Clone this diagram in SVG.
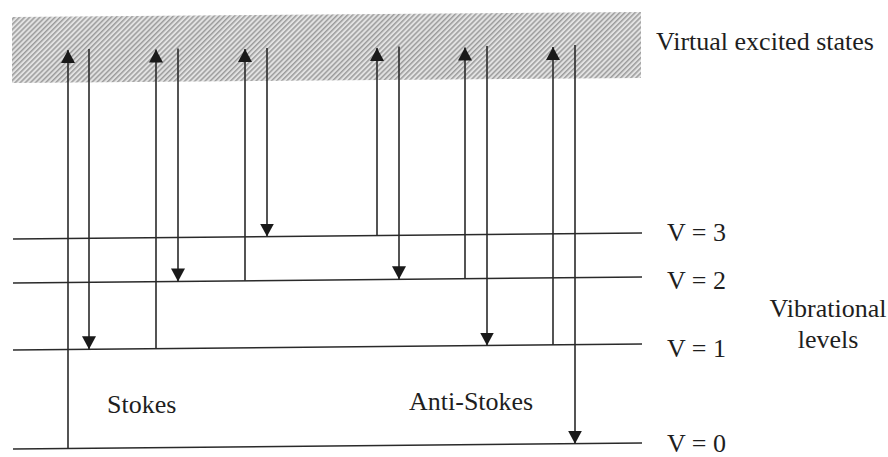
<svg xmlns="http://www.w3.org/2000/svg" width="888" height="457" viewBox="0 0 888 457">
<defs>
<pattern id="hatch" patternUnits="userSpaceOnUse" width="3.6" height="10" patternTransform="rotate(45)">
<rect width="3.6" height="10" fill="#e2e2e2"/>
<rect width="1.5" height="10" fill="#9c9c9c"/>
</pattern>
<marker id="ah" markerUnits="userSpaceOnUse" markerWidth="14" markerHeight="14" viewBox="0 0 14 14" refX="13" refY="7" orient="auto">
<path d="M0,0 L13,7 L0,14 Z" fill="#1a1a1a"/>
</marker>
</defs>
<style>
.lvl{stroke:#2a2a2a;stroke-width:1.6;fill:none}
.ar{stroke:#2a2a2a;stroke-width:1.6;fill:none;marker-end:url(#ah)}
text{font-family:"Liberation Serif","Times New Roman",serif;font-size:26px;fill:#1e1e1e}
</style>
<rect width="888" height="457" fill="#ffffff"/>
<g id="virtual-states">
<polygon points="12,17 641,12 641,78 12,83" fill="url(#hatch)"/>
</g>
<g id="level-v3"><line class="lvl" x1="13" y1="239" x2="642" y2="233"/></g>
<g id="level-v2"><line class="lvl" x1="13" y1="283" x2="642" y2="277"/></g>
<g id="level-v1"><line class="lvl" x1="13" y1="350" x2="642" y2="344"/></g>
<g id="level-v0"><line class="lvl" x1="13" y1="449" x2="642" y2="443"/></g>
<g id="connectors">
<line class="ar" x1="68" y1="448.5" x2="68" y2="50"/>
<line class="ar" x1="89" y1="49" x2="89" y2="349.3"/>
<line class="ar" x1="156" y1="348.6" x2="156" y2="49.5"/>
<line class="ar" x1="178" y1="48.5" x2="178" y2="281.4"/>
<line class="ar" x1="245" y1="280.8" x2="245" y2="49"/>
<line class="ar" x1="267" y1="48" x2="267" y2="236.6"/>
<line class="ar" x1="377" y1="235.5" x2="377" y2="48"/>
<line class="ar" x1="399" y1="46.5" x2="399" y2="279.3"/>
<line class="ar" x1="465" y1="278.7" x2="465" y2="47.5"/>
<line class="ar" x1="487" y1="46" x2="487" y2="345.5"/>
<line class="ar" x1="553" y1="344.9" x2="553" y2="47"/>
<line class="ar" x1="575" y1="45" x2="575" y2="443.7"/>
</g>
<g id="labels">
<text x="656" y="50">Virtual excited states</text>
<text x="667" y="241">V = 3</text>
<text x="667" y="289">V = 2</text>
<text x="667" y="357">V = 1</text>
<text x="667" y="452">V = 0</text>
<text x="828" y="317" text-anchor="middle">Vibrational</text>
<text x="828" y="348" text-anchor="middle">levels</text>
<text x="107" y="413">Stokes</text>
<text x="409" y="410">Anti-Stokes</text>
</g>
</svg>
